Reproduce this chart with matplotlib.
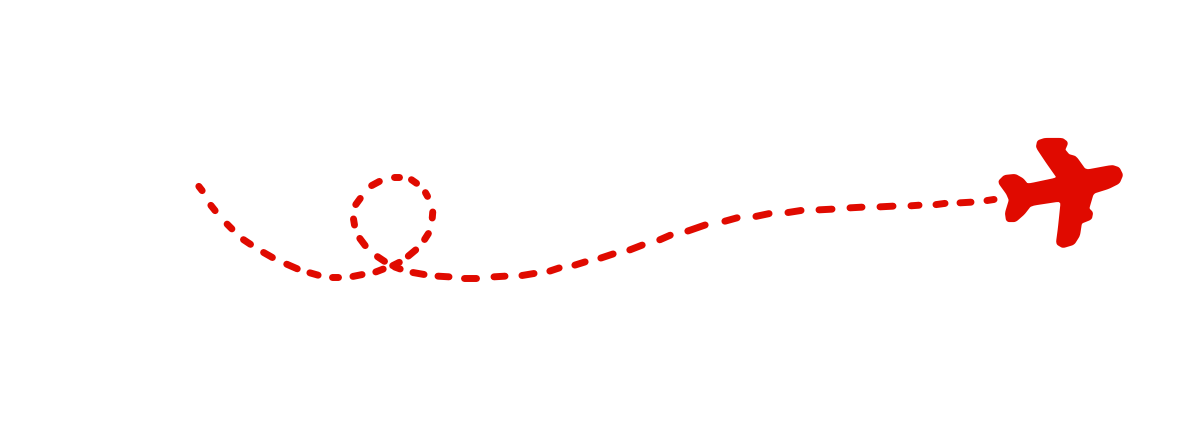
#虚线航迹和红色飞机，坐标按图片像素读取

import matplotlib
matplotlib.use("Agg")
import matplotlib.pyplot as plt
import numpy as np
from matplotlib.patches import Polygon

# 每段虚线的起点和终点
dash_x0 = [197, 209, 225, 241, 261, 284, 307, 329, 350, 373, 390, 406, 423, 432, 429, 419, 402, 382, 362, 353, 358, 375, 392, 410, 435, 461,
           491, 519, 547, 572, 598, 627, 657, 685, 722, 753, 785, 816, 847, 877, 908, 933, 957, 984]
dash_y0 = [184, 203, 222, 238, 251, 263, 272, 277, 277, 273, 267, 258, 242, 221, 199, 185, 177, 180, 196, 216, 236, 255, 266, 272, 276, 278,
           277, 276, 272, 266, 259, 251, 241, 232, 222, 217, 213, 210, 208, 207, 206, 205, 203, 201]
dash_x1 = [204, 217, 234, 253, 275, 300, 321, 341, 365, 386, 402, 418, 430, 433, 424, 409, 391, 369, 354, 355, 367, 387, 403, 427, 452, 479,
           508, 537, 562, 588, 616, 645, 673, 708, 740, 772, 804, 835, 865, 896, 922, 948, 974, 997]
dash_y1 = [193, 213, 231, 246, 259, 270, 276, 277, 274, 268, 261, 248, 231, 209, 190, 178, 177, 187, 207, 228, 248, 263, 270, 275, 277, 278,
           276, 273, 267, 261, 253, 244, 234, 224, 217, 213, 210, 209, 207, 206, 205, 203, 202, 199]

# 飞机轮廓
plane_x = [1000, 1005, 1015, 1022, 1027, 1060, 1048, 1038, 1039, 1045, 1062, 1066, 1063, 1068, 1075, 1085, 1112, 1118, 1121, 1118, 1108, 1092,
           1087, 1091, 1090, 1080, 1078, 1073, 1063, 1058, 1060, 1063, 1030, 1023, 1015, 1008, 1007, 1011, 1008]
plane_y = [182, 177, 176, 180, 186, 179, 162, 147, 142, 140, 140, 143, 150, 156, 158, 172, 167, 169, 175, 182, 187, 192,
           209, 213, 218, 222, 235, 243, 246, 243, 228, 199, 204, 213, 220, 220, 213, 200, 193]

red = "#e00a00"
cap = 3  # 圆头占掉的长度


def smooth_outline(x, y, times=2):  # 切角，让轮廓圆一点
    pts = np.column_stack([x, y]).astype(float)
    for _ in range(times):
        nxt = np.roll(pts, -1, axis=0)
        pts = np.column_stack([0.88 * pts + 0.12 * nxt, 0.12 * pts + 0.88 * nxt]).reshape(-1, 2)
    return pts


fig = plt.figure(figsize=(12, 4.25), dpi=100)
ax = fig.add_axes([0, 0, 1, 1])
ax.set_xlim(0, 1200)
ax.set_ylim(425, 0)
ax.axis("off")

for x0, y0, x1, y1 in zip(dash_x0, dash_y0, dash_x1, dash_y1):
    d = np.hypot(x1 - x0, y1 - y0)
    ux, uy = (x1 - x0) / d, (y1 - y0) / d
    ax.plot([x0 + ux * cap, x1 - ux * cap], [y0 + uy * cap, y1 - uy * cap], color=red, linewidth=5, solid_capstyle="round")

ax.add_patch(Polygon(smooth_outline(plane_x, plane_y), closed=True, facecolor=red, edgecolor=red, linewidth=3, joinstyle="round"))

fig.savefig("out.png", dpi=100, facecolor="white")
